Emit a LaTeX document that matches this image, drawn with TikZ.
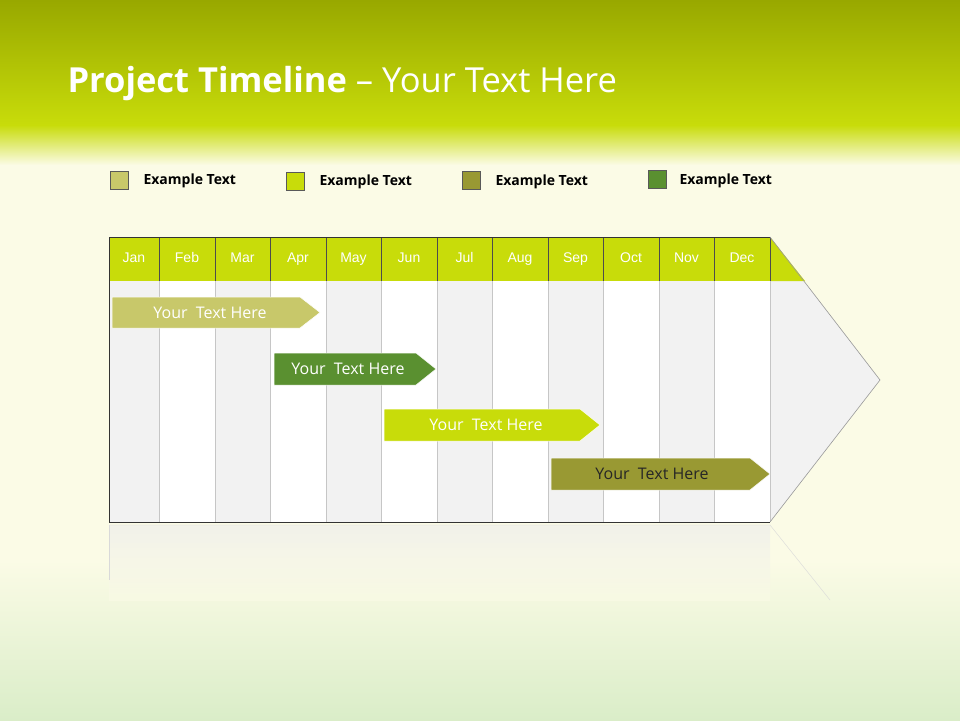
\documentclass[tikz,border=0pt]{standalone}
\usepackage{fontspec}
\setmainfont{Open Sans}
\newfontfamily\arialf{Liberation Sans}
\definecolor{lime}{HTML}{C8DC0A}
\definecolor{khaki}{HTML}{C8C86A}
\definecolor{olive}{HTML}{999933}
\definecolor{leaf}{HTML}{5A9030}
\definecolor{cream}{HTML}{FBFBE6}
\definecolor{topg}{HTML}{98A800}
\definecolor{colg}{HTML}{F2F2F2}
\begin{document}
\begin{tikzpicture}[x=1pt,y=-1pt,
  legbox/.style={draw=gray!70!black,line width=0.4pt,minimum size=18pt,inner sep=0pt},
  legtxt/.style={font=\bfseries\fontsize{14}{16}\selectfont,anchor=west},
  mon/.style={font=\arialf\fontsize{14}{16}\selectfont,text=white,text height=10pt,text depth=3pt},
  bar/.style={line width=0.5pt}]
\useasboundingbox (0,0) rectangle (960,720);
\fill[cream] (0,0) rectangle (960,720);
\shade[top color=topg,bottom color=lime] (0,0) rectangle (960,125);
\shade[top color=lime,bottom color=cream] (0,125) rectangle (960,165);
\shade[top color=cream,bottom color=green!30!olive!25] (0,560) rectangle (960,720);
\node[anchor=base west,text=white,font=\fontsize{34.5}{38}\selectfont] (title) at (64,92) {\textbf{Project Timeline} -- Your Text Here};
% legend
\node[legbox,fill=khaki] (l1) at (119,180) {};
\node[legtxt] (t1) at (140,181) {Example Text};
\node[legbox,fill=lime] (l2) at (295,181) {};
\node[legtxt] (t2) at (316,182) {Example Text};
\node[legbox,fill=olive] (l3) at (471,180) {};
\node[legtxt] (t3) at (492,182) {Example Text};
\node[legbox,fill=leaf] (l4) at (657,179) {};
\node[legtxt] (t4) at (676,181) {Example Text};
% arrow body
\fill[colg] (770,237) -- (880,380) -- (770,522) -- cycle;
\fill[lime] (770,237) -- (805,281) -- (770,281) -- cycle;
% columns
\def\xs{{109,159,215,270,326,381,437,492,548,603,659,714,770}}
\foreach \m [count=\i from 0] in {Jan,Feb,Mar,Apr,May,Jun,Jul,Aug,Sep,Oct,Nov,Dec}{
  \pgfmathsetmacro\xa{\xs[\i]}
  \pgfmathsetmacro\xb{\xs[\i+1]}
  \pgfmathtruncatemacro\odd{mod(\i,2)}
  \ifnum\odd=0 \fill[colg] (\xa,281) rectangle (\xb,522); \else \fill[white] (\xa,281) rectangle (\xb,522); \fi
  \fill[lime] (\xa,237) rectangle (\xb,281);
  \node[mon] (m\i) at ({(\xa+\xb)/2},259) {\m};
}
\foreach \i in {1,...,12}{
  \pgfmathsetmacro\xb{\xs[\i]}
  \draw[gray!45] (\xb,281) -- (\xb,522);
  \draw[black!70,line width=0.4pt] (\xb,237) -- (\xb,281);
}
\draw[black!80,line width=0.6pt] (770,237) -- (109,237) -- (109,522) -- (770,522);
\draw[gray!80,line width=0.6pt] (770,237) -- (880,380) -- (770,522);
% reflection
\shade[top color=gray!15,bottom color=cream,opacity=0.6] (109,525) rectangle (770,600);
\draw[gray!30] (109,525) -- (770,525) -- (830,600);
\draw[gray!30] (109,525) -- (109,580);
% bars
\fill[khaki] (112,297) -- (300,297) -- (320,312.5) -- (300,328) -- (112,328) -- cycle;
\draw[white,bar] (112,297) -- (300,297) -- (320,312.5) -- (300,328) -- (112,328) -- cycle;
\node[text=white,font=\fontsize{16}{18}\selectfont] (b1) at (210,312.5) {Your\ \ Text Here};
\fill[leaf] (274,353) -- (416,353) -- (436,369) -- (416,385) -- (274,385) -- cycle;
\draw[white,bar] (274,353) -- (416,353) -- (436,369) -- (416,385) -- (274,385) -- cycle;
\node[text=white,font=\fontsize{16}{18}\selectfont] (b2) at (348,369) {Your\ \ Text Here};
\fill[lime] (384,409) -- (580,409) -- (600,425) -- (580,441) -- (384,441) -- cycle;
\draw[white,bar] (384,409) -- (580,409) -- (600,425) -- (580,441) -- (384,441) -- cycle;
\node[text=white,font=\fontsize{16}{18}\selectfont] (b3) at (486,425) {Your\ \ Text Here};
\fill[olive] (551,458) -- (750,458) -- (770,474) -- (750,490) -- (551,490) -- cycle;
\draw[white,bar] (551,458) -- (750,458) -- (770,474) -- (750,490) -- (551,490) -- cycle;
\node[text=black!85,font=\fontsize{16}{18}\selectfont] (b4) at (652,474) {Your\ \ Text Here};
\end{tikzpicture}
\end{document}
